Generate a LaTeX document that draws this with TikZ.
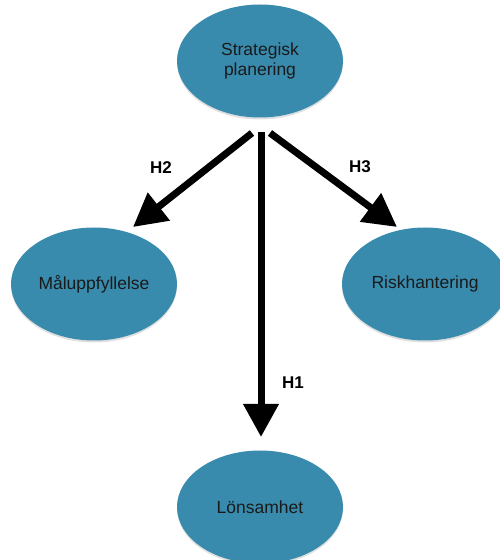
\documentclass[tikz,border=0pt]{standalone}
\usepackage{fontspec}
\setmainfont{Liberation Sans}
\usetikzlibrary{arrows.meta,shapes.geometric,shadows}
\definecolor{ellfill}{HTML}{388BAD}
\definecolor{txt}{HTML}{1A1A1A}
\tikzset{
  bubble/.style={ellipse, fill=ellfill, minimum width=166pt, minimum height=113pt, inner sep=0pt,
    text=txt, font=\fontsize{17.5}{20}\selectfont, align=center,
    drop shadow={opacity=0.25, shadow xshift=0pt, shadow yshift=-2pt}},
  bigarrow/.style={line width=7pt, -{Triangle[length=33pt,width=34pt]}},
  hlabel/.style={font=\bfseries\fontsize{17}{20}\selectfont, text=black}
}
\begin{document}
\begin{tikzpicture}[x=1pt,y=1pt]
\useasboundingbox (0,0) rectangle (499,560);
\node[bubble] (strat) at (260,499) {Strategisk\\planering};
\node[bubble] (mal) at (94,276) {Måluppfyllelse};
\node[bubble] (risk) at (425,276) {Riskhantering};
\node[bubble] (lons) at (260,53) {Lönsamhet};
\coordinate (s1) at (261,428);
\coordinate (s2) at (252,427);
\coordinate (s3) at (270,427);
\coordinate (t1) at (261,123);
\coordinate (t2) at (133,333);
\coordinate (t3) at (397,333);
\draw[bigarrow] (s1) -- (t1);
\draw[bigarrow] (s2) -- (t2);
\draw[bigarrow] (s3) -- (t3);
\node[hlabel] (h1) at (293,177) {H1};
\node[hlabel] (h2) at (161,392) {H2};
\node[hlabel] (h3) at (360,393) {H3};
\end{tikzpicture}
\end{document}
